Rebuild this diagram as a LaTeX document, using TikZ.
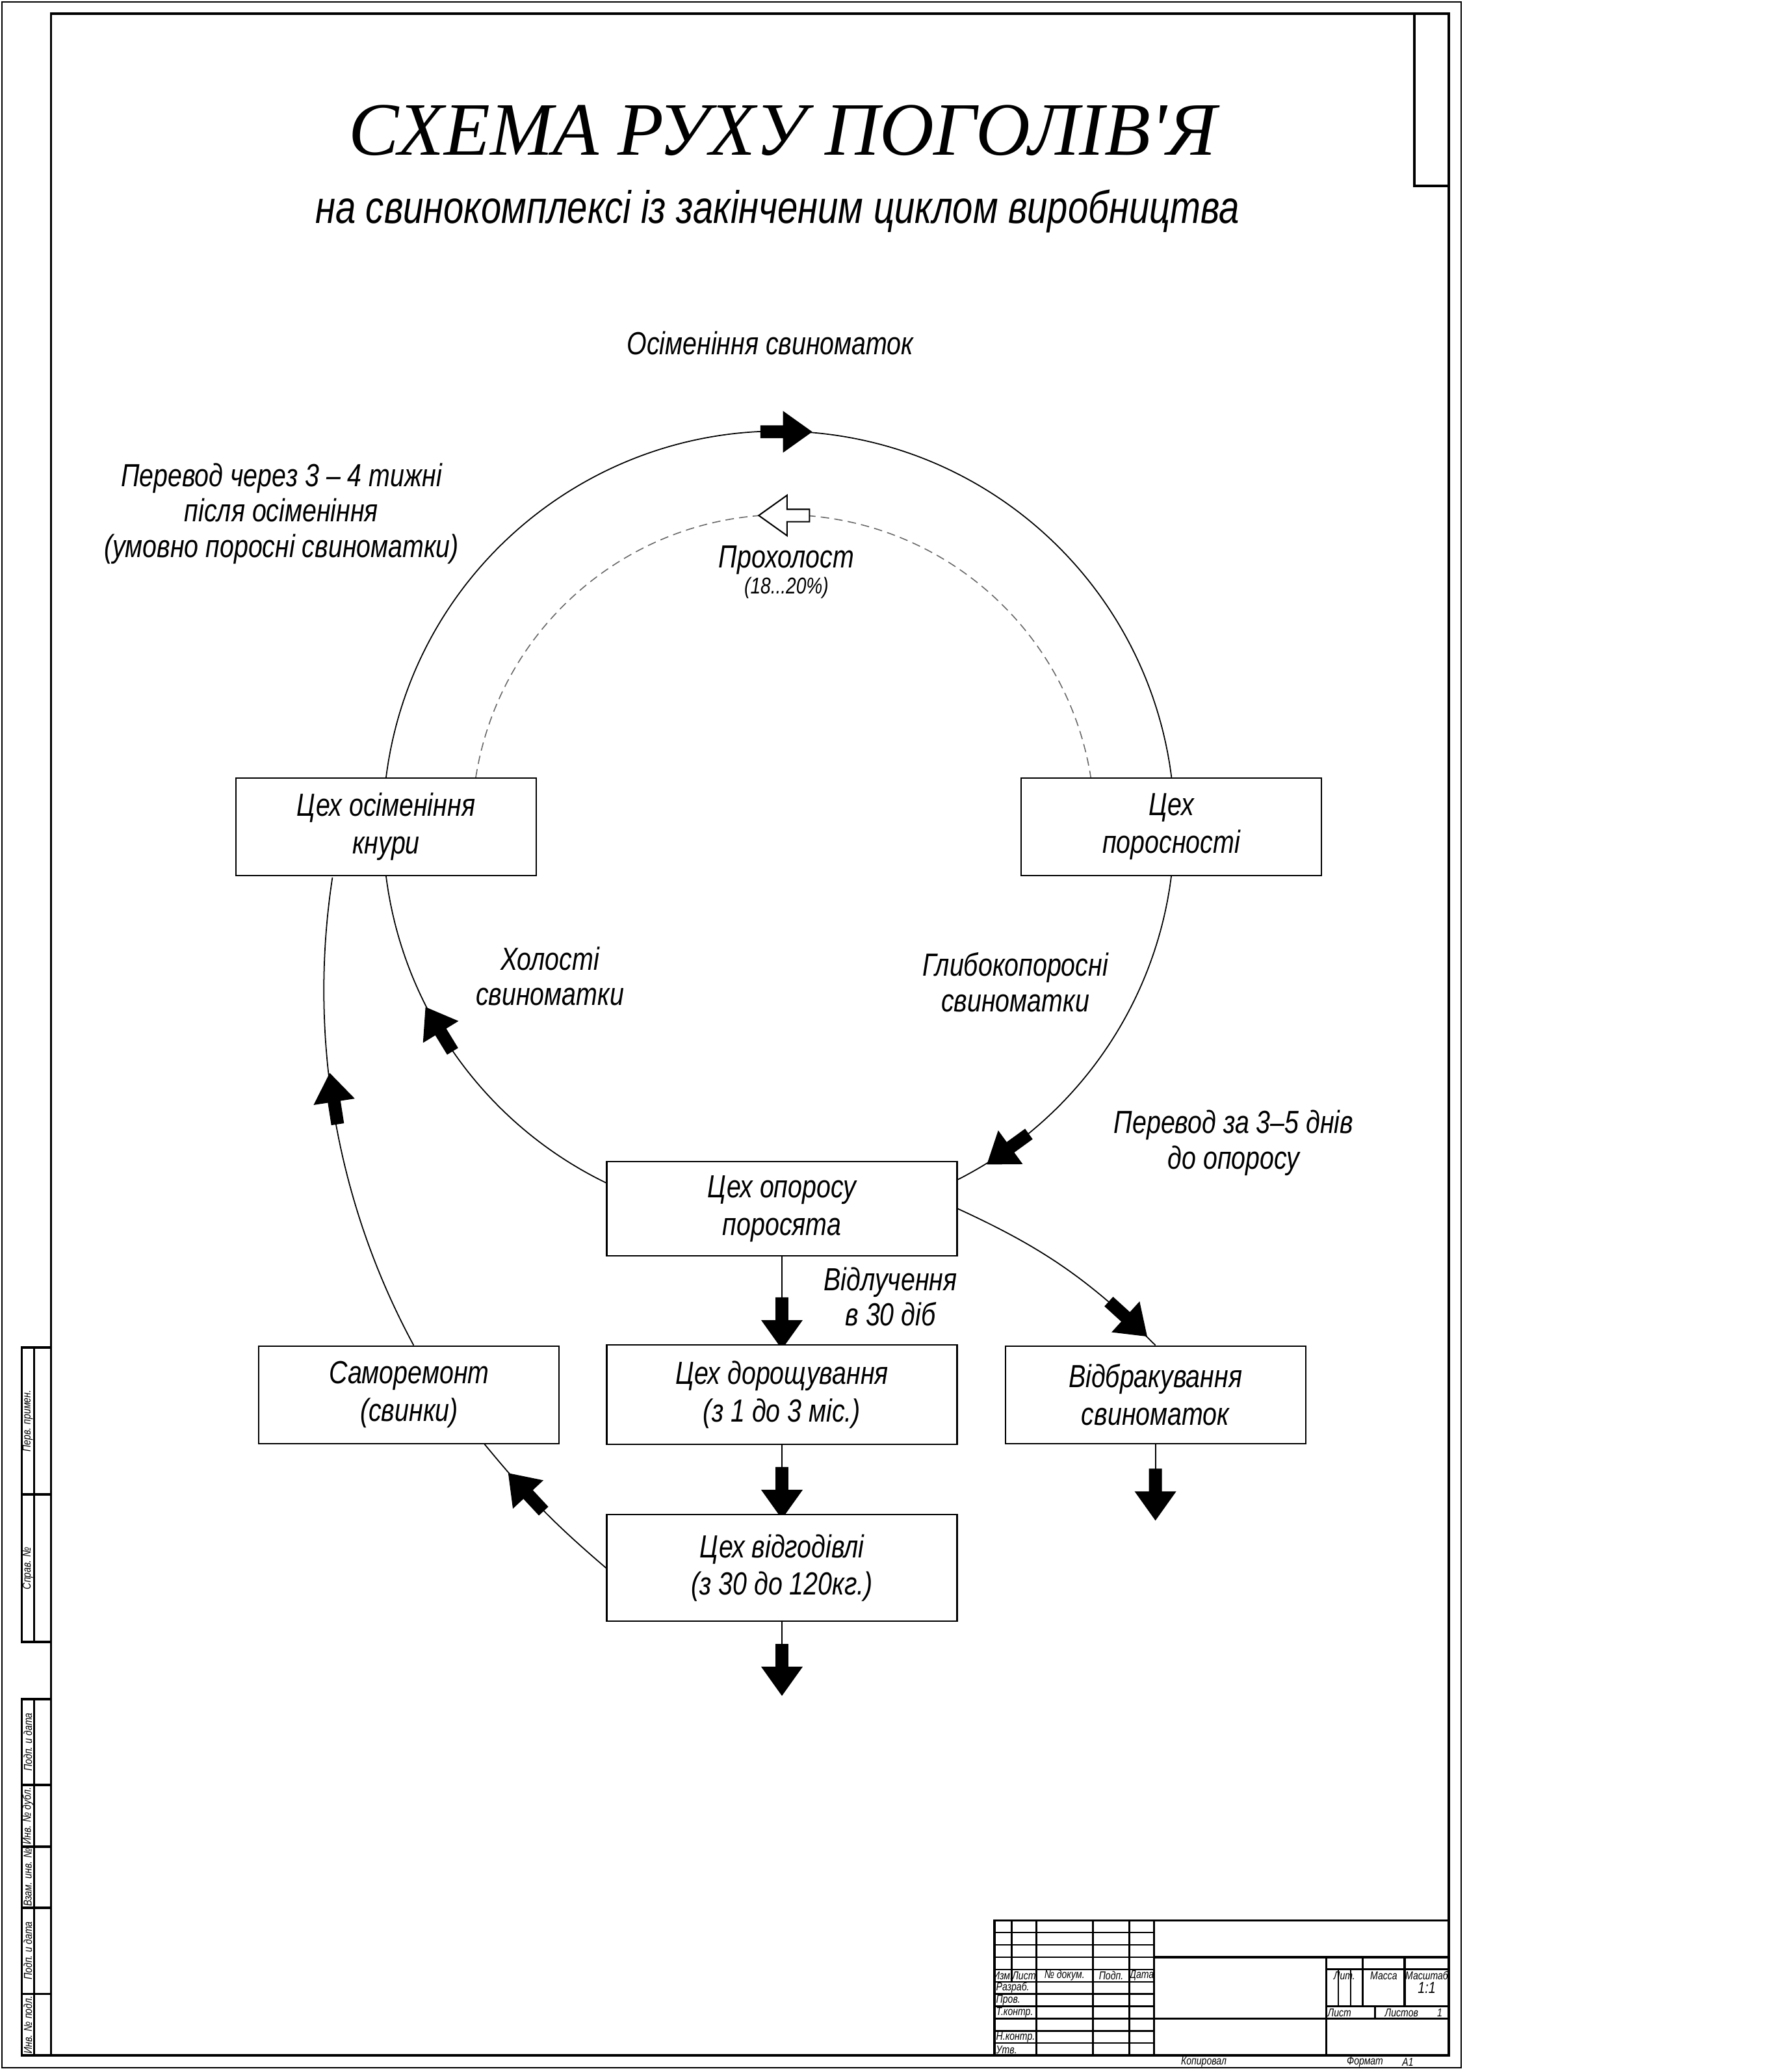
\documentclass[tikz,border=0pt]{standalone}
\usepackage{fontspec}
\setmainfont{Liberation Sans}[FakeStretch=0.8]
\newfontfamily\zagfont{Liberation Serif}
\usetikzlibrary{shapes.arrows,positioning,calc,backgrounds}

\begin{document}
\begin{tikzpicture}[tsekh/.style={draw,fill=white,line width=0.6pt,minimum width=4.62cm,minimum height=1.5cm,inner sep=0pt,align=center,font=\fontsize{14}{16.5}\selectfont\itshape},napys/.style={inner sep=0pt,align=center,font=\fontsize{14}{15.5}\selectfont\itshape},strilka/.style={single arrow,draw,fill=black,line width=0.4pt,inner xsep=0pt,inner ysep=0.85mm,minimum height=7.8mm,minimum width=6mm,single arrow head extend=2.15mm,single arrow tip angle=71},pusta/.style={strilka,fill=white,line width=0.6pt},zvyaz/.style={line width=0.5pt},prokh/.style={line width=0.45pt,black!60,dash pattern=on 1.3mm off 0.8mm},ramka/.style={line width=0.9pt},dribn/.style={inner sep=0pt,font=\fontsize{5}{6}\selectfont\itshape}]
	\useasboundingbox (0,0) rectangle (27.57,-31.83);

	% ramka arkusha
	\draw[line width=0.5pt] (0.03,-0.03) rectangle (22.48,-31.81);
	\draw[ramka] (0.786,-0.21) rectangle (22.29,-31.62);
	\draw[ramka] (21.76,-0.21) rectangle (22.29,-2.86);

	% bokova grafa
	\draw[ramka] (0.333,-20.73) rectangle (0.786,-25.26);
	\draw[ramka] (0.333,-22.99) -- (0.786,-22.99);
	\draw[ramka] (0.522,-20.73) -- (0.522,-25.26);
	\draw[ramka] (0.333,-26.14) rectangle (0.786,-31.62);
	\draw[ramka] (0.522,-26.14) -- (0.522,-31.62);
	\foreach \y in {-27.46,-28.41,-29.35,-30.675}
		\draw[ramka] (0.333,\y) -- (0.786,\y);
	\foreach \y/\t in {-21.86/Перв. примен., -24.125/Справ. №, -26.80/Подп. и дата, -27.935/Инв. № дубл., -28.88/Взам. инв. №, -30.01/Подп. и дата, -31.15/Инв. № подл.}
		\node[dribn,rotate=90] at (0.4275,\y) {\t};

	% osnovnyi napys
	\draw[ramka] (15.30,-29.542) rectangle (22.29,-31.62);
	\foreach \k in {1,...,10}
		\draw[line width=0.7pt] (15.30,{-29.542-0.189*\k}) -- (17.756,{-29.542-0.189*\k});
	\draw[ramka] (15.565,-29.542) -- (15.565,-30.487);
	\foreach \x in {15.943,16.812,17.379,17.756}
		\draw[ramka] (\x,-29.542) -- (\x,-31.62);
	\draw[ramka] (17.756,-30.109) -- (22.29,-30.109);
	\draw[ramka] (17.756,-31.054) -- (22.29,-31.054);
	\draw[ramka] (20.401,-30.109) -- (20.401,-31.62);
	\draw[ramka] (20.401,-30.298) -- (22.29,-30.298);
	\draw[ramka] (20.401,-30.865) -- (22.29,-30.865);
	\foreach \x in {20.968,21.610}
		\draw[ramka] (\x,-30.109) -- (\x,-30.865);
	\foreach \x in {20.590,20.779}
		\draw[line width=0.7pt] (\x,-30.298) -- (\x,-30.865);
	\draw[ramka] (21.157,-30.865) -- (21.157,-31.054);
	\foreach \x/\t in {15.43/Изм., 15.754/Лист, 16.377/№ докум., 17.095/Подп., 17.567/Дата, 20.684/Лит., 21.289/Масса, 21.95/Масштаб}
		\node[dribn] at (\x,-30.3925) {\t};
	\foreach \y/\t in {-30.58/Разраб., -30.77/Пров., -30.96/Т.контр., -31.34/Н.контр., -31.53/Утв.}
		\node[dribn,anchor=west] at (15.32,\y) {\t};
	\node[dribn,anchor=west] at (20.42,-30.96) {Лист};
	\node[dribn,anchor=west] at (21.30,-30.96) {Листов};
	\node[dribn] at (22.15,-30.96) {1};
	\node[dribn,font=\fontsize{7}{8}\selectfont\itshape] at (21.95,-30.58) {1:1};
	\node[dribn] at (18.52,-31.72) {Копировал};
	\node[dribn] at (21.0,-31.72) {Формат};
	\node[dribn] at (21.66,-31.72) {А1};

	% zagolovok
	\node[inner sep=0pt,font=\zagfont\itshape\fontsize{33}{36}\selectfont] (zag) at (12.04,-2.01) {СХЕМА РУХУ ПОГОЛІВ'Я};
	\node[napys,font=\fontsize{20}{22}\selectfont\itshape] (pidzag) at (11.96,-3.25) {на свинокомплексі із закінченим циклом виробництва};

	% tsekhy
	\node[tsekh] (kn) at (5.94,-12.72) {Цех осіменіння\\кнури};
	\node[tsekh] (poro) at (18.02,-12.72) {Цех\\поросності};
	\node[tsekh,minimum width=5.39cm,minimum height=1.45cm] (op) at (12.03,-18.595) {Цех опоросу\\поросята};
	\node[tsekh,minimum width=5.39cm,minimum height=1.53cm] (dor) [below=1.35cm of op] {Цех дорощування\\(з 1 до 3 міс.)};
	\node[tsekh] (sam) [left=0.71cm of dor] {Саморемонт\\(свинки)};
	\node[tsekh] (vidb) [right=0.72cm of dor] {Відбракування\\свиноматок};
	\node[tsekh,minimum width=5.39cm,minimum height=1.64cm] (vidg) [below=1.06cm of dor] {Цех відгодівлі\\(з 30 до 120кг.)};
	\coordinate (vidbkin) at ($(vidb.south)+(0,-1.10)$);
	\coordinate (vidgkin) at ($(vidg.south)+(0,-1.06)$);

	% napysy
	\node[napys] (osim) at (11.85,-5.28) {Осіменіння свиноматок};
	\node[napys] (perevod1) at (4.33,-7.90) {Перевод через 3 – 4 тижні\\після осіменіння\\(умовно поросні свиноматки)};
	\node[napys] (prokhol) at (12.10,-8.62) {Прохолост};
	\node[napys,font=\fontsize{10}{11}\selectfont\itshape] (prokholv) [below=0.3mm of prokhol] {(18...20\%)};
	\node[napys] (kholost) at (8.46,-15.02) {Холості\\свиноматки};
	\node[napys] (glyb) at (15.62,-15.11) {Глибокопоросні\\свиноматки};
	\node[napys] (perevod2) at (18.98,-17.58) {Перевод за 3–5 днів\\до опоросу};
	\node[napys] (vidluch) at (13.70,-19.95) {Відлучення\\в 30 діб};

	\begin{scope}[on background layer]
		\draw[zvyaz] (kn.north) arc[start angle=172.8,end angle=7.2,radius=6.09];
		\draw[zvyaz] (poro.south) arc[start angle=-7.2,end angle=-64.5,radius=6.09];
		\draw[zvyaz] (kn.south) arc[start angle=187.2,end angle=244.5,radius=6.09];
		\draw[prokh] ([xshift=1.38cm]kn.north) arc[start angle=171,end angle=9,radius=4.79];
		\draw[zvyaz] ([xshift=0.7mm]sam.north) arc[start angle=208.4,end angle=171.3,radius=11.48];

		\draw[zvyaz] (op.south) -- node[strilka,pos=0.711,sloped,allow upside down] (s1) {} (dor.north);
		\draw[zvyaz] (dor.south) -- node[strilka,pos=0.632,sloped,allow upside down] (s2) {} (vidg.north);
		\draw[zvyaz] (vidb.south) -- node[strilka,pos=0.645,sloped,allow upside down] (s3) {} (vidbkin);
		\draw[zvyaz] (vidg.south) -- node[strilka,pos=0.632,sloped,allow upside down] (s4) {} (vidgkin);
		\draw[zvyaz] (op.east) to[bend left=10] node[strilka,pos=0.84,sloped,allow upside down] (s5) {} (vidb.north);
		\draw[zvyaz] (vidg.west) to[bend left=5] node[strilka,pos=0.62,sloped,allow upside down] (s6) {} ($(sam.south)!0.5!(sam.south east)$);

		% strilky na dugakh
		\node[strilka] (s7) at (12.03,-6.643) {};
		\node[pusta,rotate=180] (s8) at (12.13,-7.93) {};
		\node[strilka,rotate=121.5] (s9) at (6.79,-15.89) {};
		\node[strilka,rotate=216] (s10) at (15.56,-17.64) {};
		\node[strilka,rotate=98.8] (s11) at (5.144,-16.967) {};
	\end{scope}

\end{tikzpicture}
\end{document}
